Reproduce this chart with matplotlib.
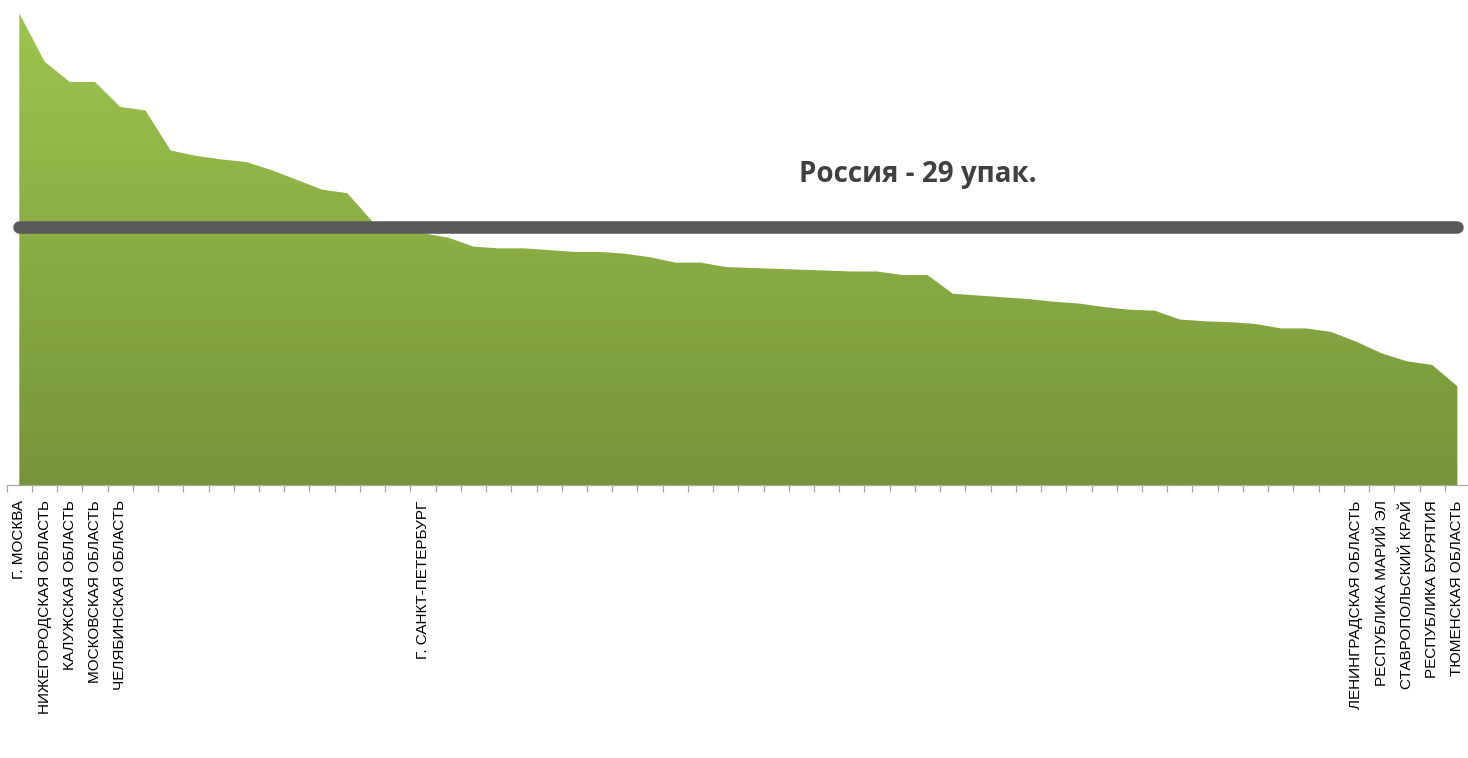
import numpy as np
import matplotlib

matplotlib.use("Agg")

import matplotlib.pyplot as plt  # noqa: E402
from matplotlib.colors import LinearSegmentedColormap  # noqa: E402

plt.rcParams["font.family"] = ["Liberation Sans", "DejaVu Sans"]

# Regions sorted by value; only some are labelled on the axis.
regions = [
    "Г. МОСКВА", "НИЖЕГОРОДСКАЯ ОБЛАСТЬ", "КАЛУЖСКАЯ ОБЛАСТЬ",
    "МОСКОВСКАЯ ОБЛАСТЬ", "ЧЕЛЯБИНСКАЯ ОБЛАСТЬ",
    "", "", "", "", "", "", "", "", "", "", "",
    "Г. САНКТ-ПЕТЕРБУРГ",
    "", "", "", "", "", "", "", "", "", "", "", "", "", "", "", "", "", "", "", "",
    "", "", "", "", "", "", "", "", "", "", "", "", "", "", "", "",
    "ЛЕНИНГРАДСКАЯ ОБЛАСТЬ", "РЕСПУБЛИКА МАРИЙ ЭЛ", "СТАВРОПОЛЬСКИЙ КРАЙ",
    "РЕСПУБЛИКА БУРЯТИЯ", "ТЮМЕНСКАЯ ОБЛАСТЬ",
]

packs = [
    53.0, 47.6, 45.3, 45.3, 42.5, 42.1, 37.6, 37.0, 36.6, 36.3,
    35.4, 34.3, 33.2, 32.8, 29.6, 28.8, 28.3, 27.8, 26.8, 26.6,
    26.6, 26.4, 26.2, 26.2, 26.0, 25.6, 25.0, 25.0, 24.5, 24.4,
    24.3, 24.2, 24.1, 24.0, 24.0, 23.6, 23.6, 21.5, 21.3, 21.1,
    20.9, 20.6, 20.4, 20.0, 19.7, 19.6, 18.6, 18.4, 18.3, 18.1,
    17.6, 17.6, 17.2, 16.1, 14.8, 13.9, 13.5, 11.1,
]

russia_avg = 29
russia_label = "Россия - 29 упак."

W, H = 1468, 758
fig = plt.figure(figsize=(W / 100, H / 100), dpi=100)

# plot area: x from 6.7px to 1470px, baseline at 485px from top
y_top = 54
ax = fig.add_axes([6.7 / W, (H - 485) / H, 1463.3 / W, 480.4 / H])

x = np.arange(len(packs))
ax.set_xlim(-0.5, len(packs) - 0.5)
ax.set_ylim(0, y_top)

# gradient-filled area
poly = ax.fill_between(x, packs, 0, facecolor="none", edgecolor="none")
cmap = LinearSegmentedColormap.from_list("g", ["#76953a", "#9ec54e"])
grad = np.linspace(0, 1, 256).reshape(-1, 1)
im = ax.imshow(grad, cmap=cmap, origin="lower", aspect="auto",
               extent=[-0.5, len(packs) - 0.5, 0, y_top], zorder=1)
im.set_clip_path(poly.get_paths()[0], transform=ax.transData)

# country average line
ax.plot([x[0], x[-1]], [russia_avg, russia_avg], color="#595959",
        linewidth=9, solid_capstyle="round", zorder=3)
ax.text(35.6, 34.1, russia_label, fontsize=20, fontweight="bold",
        family=["Open Sans", "DejaVu Sans"], color="#404040",
        ha="center", va="baseline")

# axes styling: only the bottom axis with boundary ticks
for side in ["left", "right", "top"]:
    ax.spines[side].set_visible(False)
ax.spines["bottom"].set_color("#a6a6a6")
ax.spines["bottom"].set_linewidth(0.9)
ax.set_yticks([])

ax.set_xticks(np.arange(-0.5, len(packs), 1))
ax.set_xticklabels([])
ax.tick_params(axis="x", which="major", length=5, color="#a6a6a6", width=0.9)

ax.set_xticks(x, minor=True)
ax.set_xticklabels(regions, minor=True, rotation=90, fontsize=11)
ax.tick_params(axis="x", which="minor", length=0, pad=11)

fig.savefig("out.png", dpi=100)
plt.close(fig)
